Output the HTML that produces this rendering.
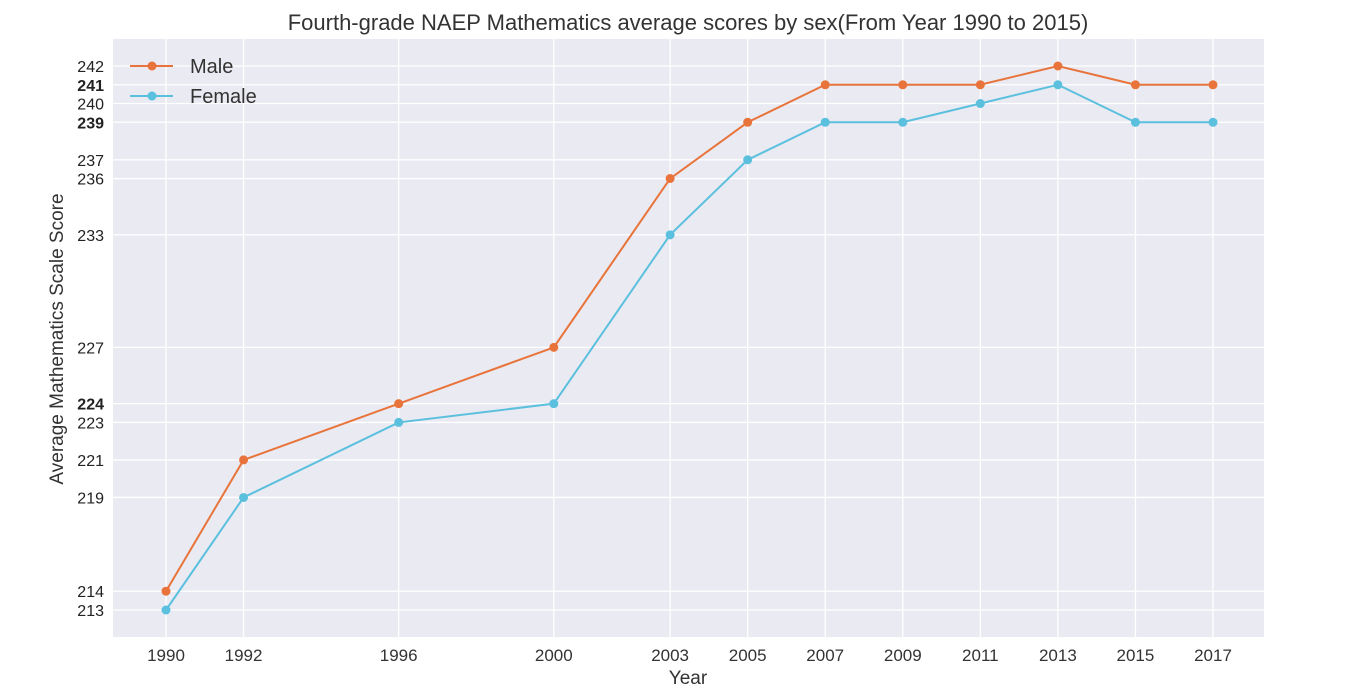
<!DOCTYPE html>
<html><head><meta charset="utf-8"><style>
body{margin:0;background:#fff;width:1360px;height:692px;overflow:hidden;font-family:"Liberation Sans",sans-serif}
</style></head><body>
<svg id="s" width="1360" height="692" xmlns="http://www.w3.org/2000/svg" font-family="Liberation Sans, sans-serif"></svg>
<script>
const s=document.getElementById('s');
const X=yr=>166+(yr-1990)*1047/27, Y=v=>610-(v-213)*544/29;
const L=113,R=1264,T=39,B=637;
let h=`<rect x="${L}" y="${T}" width="${R-L}" height="${B-T}" fill="#eaeaf2"/>`;
const yrs=[1990,1992,1996,2000,2003,2005,2007,2009,2011,2013,2015,2017];
const yt=[213,214,219,221,223,224,227,233,236,237,239,240,241,242];
const bold=[224,239,241];
yrs.forEach(y=>{h+=`<line x1="${X(y)}" x2="${X(y)}" y1="${T}" y2="${B}" stroke="#fff" stroke-width="1.3"/>`;
h+=`<text x="${X(y)}" y="661" font-size="17" fill="#333" text-anchor="middle">${y}</text>`});
yt.forEach(v=>{h+=`<line x1="${L}" x2="${R}" y1="${Y(v)}" y2="${Y(v)}" stroke="#fff" stroke-width="1.3"/>`;
h+=`<text x="104" y="${Y(v)+6}" font-size="16" fill="#222" text-anchor="end"${bold.includes(v)?' font-weight="bold"':''}>${v}</text>`});
const m=[214,221,224,227,236,239,241,241,241,242,241,241];
const f=[213,219,223,224,233,237,239,239,240,241,239,239];
function ser(d,c){let p=d.map((v,i)=>X(yrs[i])+','+Y(v)).join(' ');
h+=`<polyline points="${p}" fill="none" stroke="${c}" stroke-width="2"/>`;
d.forEach((v,i)=>h+=`<circle cx="${X(yrs[i])}" cy="${Y(v)}" r="4.5" fill="${c}"/>`)}
ser(m,'#e8743b');ser(f,'#5bc0de');
h+=`<line x1="130" x2="173" y1="66" y2="66" stroke="#e8743b" stroke-width="2"/><circle cx="152" cy="66" r="4.5" fill="#e8743b"/>`;
h+=`<text x="190" y="73" font-size="20" fill="#333">Male</text>`;
h+=`<line x1="130" x2="173" y1="96" y2="96" stroke="#5bc0de" stroke-width="2"/><circle cx="152" cy="96" r="4.5" fill="#5bc0de"/>`;
h+=`<text x="190" y="103" font-size="20" fill="#333">Female</text>`;
h+=`<text x="688" y="30" font-size="22" fill="#333" text-anchor="middle">Fourth-grade NAEP Mathematics average scores by sex(From Year 1990 to 2015)</text>`;
h+=`<text x="688" y="684" font-size="19" fill="#333" text-anchor="middle">Year</text>`;
h+=`<text transform="translate(63,339) rotate(-90)" font-size="19" fill="#333" text-anchor="middle">Average Mathematics Scale Score</text>`;
s.innerHTML=h;
</script>
</body></html>
